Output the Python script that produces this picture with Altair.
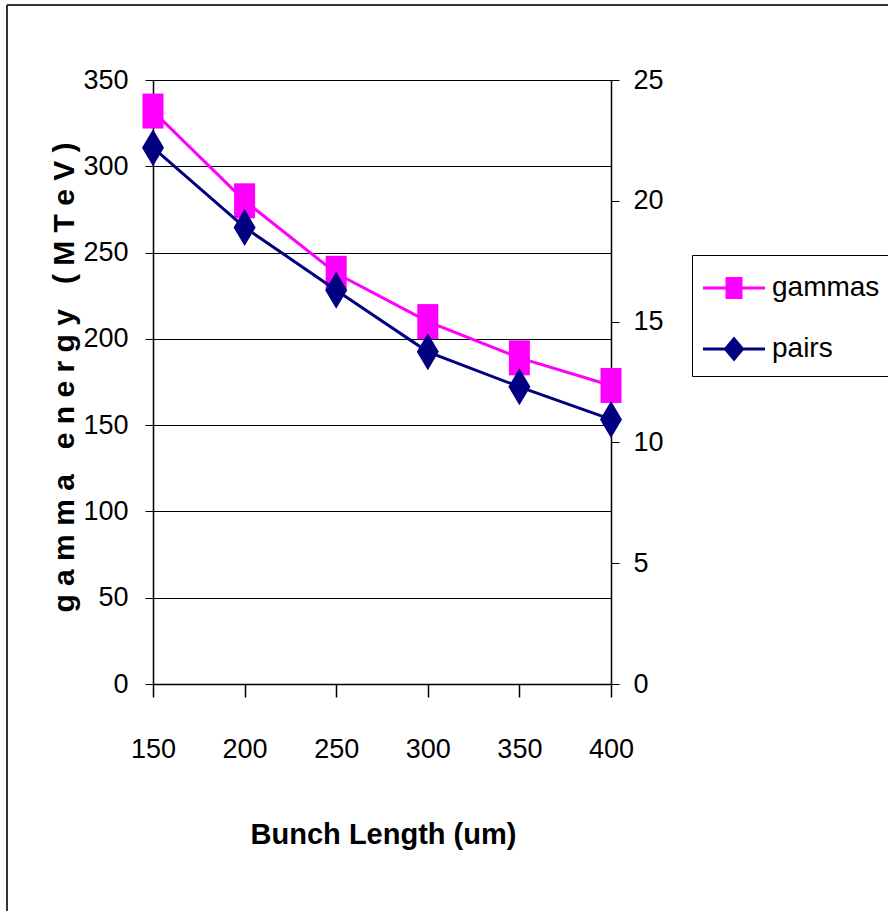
import altair as alt
import pandas as pd

# ---- data ----
bunch_length = [150, 200, 250, 300, 350, 400]
gammas = [332, 280, 238, 210, 189, 173]          # left axis (gamma energy, MTeV)
pairs = [22.2, 18.9, 16.3, 13.75, 12.3, 10.95]  # right axis
series_names = ["gammas", "pairs"]
series_colors = ["#FF00FF", "#000080"]
left_ticks = [0, 50, 100, 150, 200, 250, 300, 350]
right_ticks = [0, 5, 10, 15, 20, 25]
x_ticks = [150, 200, 250, 300, 350, 400]

FONT = "'Liberation Sans', Arial, sans-serif"
NB = "\u00a0"
Y_TITLE = f"g a m m a {NB} e n e r g y {NB} ( M T e V )"

df_g = pd.DataFrame({"x": bunch_length, "v": gammas})
df_p = pd.DataFrame({"x": bunch_length, "v": pairs})
df_leg = pd.DataFrame({"series": series_names})

W, H = 458, 604

x_enc = alt.X(
    "x:Q",
    scale=alt.Scale(domain=[150, 400], nice=False, zero=False),
    axis=alt.Axis(
        values=x_ticks, title="Bunch Length (um)", grid=False,
        tickSize=13, labelPadding=39, labelFontSize=27, labelFont=FONT,
        labelColor="black", domainColor="black", tickColor="black",
        domainWidth=1.5, tickWidth=1.5,
        titleFont=FONT, titleFontSize=29, titleFontWeight="bold",
        titleColor="black", titleX=230, titleY=159,
        titleBaseline="alphabetic", titleAlign="center",
        labelFlush=False, labelOverlap=False,
    ),
)

# gammas on the left axis
base_g = alt.Chart(df_g).encode(
    x=x_enc,
    y=alt.Y(
        "v:Q",
        scale=alt.Scale(domain=[0, 350], nice=False),
        axis=alt.Axis(
            values=left_ticks, orient="left", grid=True, gridColor="black",
            gridWidth=1, tickSize=8, labelPadding=17, labelFontSize=27,
            labelFont=FONT, labelColor="black", domainColor="black",
            tickColor="black", domainWidth=1.5,
            title=Y_TITLE,
            titleFont=FONT, titleFontSize=30, titleFontWeight="bold",
            titleColor="black", titleAngle=-90, titleX=-80, titleY=297,
            titleAlign="center", titleBaseline="alphabetic",
            labelFlush=False, labelOverlap=False,
        ),
    ),
)
line_g = base_g.mark_line(color="#FF00FF", strokeWidth=3)
pt_g = base_g.mark_point(
    shape="M-0.6,-1H0.6V1H-0.6Z", filled=True, size=1225,
    color="#FF00FF", opacity=1,
)
layer_g = alt.layer(line_g, pt_g)

# pairs on the right axis
base_p = alt.Chart(df_p).encode(
    x=x_enc,
    y=alt.Y(
        "v:Q",
        scale=alt.Scale(domain=[0, 25], nice=False),
        axis=alt.Axis(
            values=right_ticks, orient="right", grid=False, tickSize=8,
            labelPadding=14, labelFontSize=27, labelFont=FONT,
            labelColor="black", domainColor="black", tickColor="black",
            domainWidth=1.5, title=None, labelFlush=False, labelOverlap=False,
        ),
    ),
)
line_p = base_p.mark_line(color="#000080", strokeWidth=3)
pt_p = base_p.mark_point(
    shape="M0,-1L0.595,0L0,1L-0.595,0Z", filled=True, size=1369,
    color="#000080", opacity=1,
)
layer_p = alt.layer(line_p, pt_p)

# legend (line + marker symbols); data filtered out so only the legend shows
sym_g = "M-1.1,-0.075H2V0.075H-1.1Z M0.025,-0.55H0.875V0.55H0.025Z"
sym_p = "M-1.1,-0.075H2V0.075H-1.1Z M0.45,-0.625L0.975,0L0.45,0.625L-0.075,0Z"
legend_layer = alt.Chart(df_leg).transform_filter("false").mark_point(
    filled=True, opacity=1, size=1600
).encode(
    color=alt.Color(
        "series:N",
        scale=alt.Scale(domain=series_names, range=series_colors),
        legend=alt.Legend(
            title=None, orient="none", legendX=539, legendY=175,
            padding=13, strokeColor="black", fillColor="white",
            labelFont=FONT, labelFontSize=28, labelColor="black",
            labelOffset=27, rowPadding=27, symbolSize=1600,
            symbolOpacity=1, symbolStrokeWidth=0, labelLimit=400,
        ),
    ),
    shape=alt.Shape(
        "series:N",
        scale=alt.Scale(domain=series_names, range=[sym_g, sym_p]),
    ),
)

# outer frame (decoration, only top/left edges visible in the reference)
frame_df = pd.DataFrame({"k": [0]})
frame_v = alt.Chart(frame_df).mark_rule(color="#333333", strokeWidth=2).encode(
    x=alt.value(-146), y=alt.value(-75), y2=alt.value(H + 250)
)
frame_h = alt.Chart(frame_df).mark_rule(color="#333333", strokeWidth=2).encode(
    x=alt.value(-146), x2=alt.value(W + 300), y=alt.value(-75)
)

chart = (
    alt.layer(frame_v, frame_h, layer_g, layer_p, legend_layer)
    .resolve_scale(y="independent")
    .properties(
        width=W, height=H,
        autosize=alt.AutoSizeParams(type="none"),
        padding={"left": 153, "top": 80, "right": 888 - 153 - W, "bottom": 911 - 80 - H},
        background="white",
    )
    .configure_view(stroke=None)
)

chart.save("out.html", embed_options={"renderer": "svg", "actions": False})
